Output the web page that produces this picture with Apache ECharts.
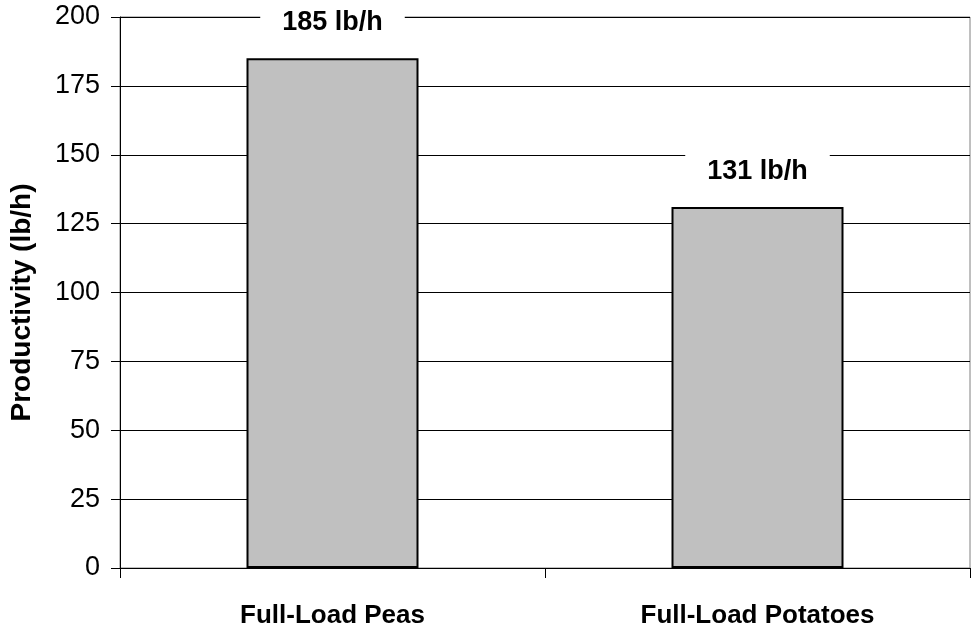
<!DOCTYPE html>
<html>
<head>
<meta charset="utf-8">
<script src="https://cdn.jsdelivr.net/npm/echarts@6/dist/echarts.min.js"></script>
<style>html,body{margin:0;padding:0;background:#fff}#c{width:974px;height:632px}</style>
</head>
<body>
<div id="c"></div>
<script>
var categories = ['Full-Load Peas', 'Full-Load Potatoes'];
var productivity = [185, 131];
var labelTexts = ['185 lb/h', '131 lb/h'];
var yAxisName = 'Productivity (lb/h)';

var FONT = "'Liberation Sans', Arial, sans-serif";
var chart = echarts.init(document.getElementById('c'));
chart.setOption({
  animation: false,
  backgroundColor: '#fff',
  grid: { left: 117, right: 4, top: 17, bottom: 64, show: true, borderColor: '#808080', borderWidth: 1, backgroundColor: 'transparent' },
  xAxis: {
    type: 'category',
    data: categories,
    axisLine: { lineStyle: { color: '#000', width: 1 } },
    axisTick: { show: true, length: 10, lineStyle: { color: '#000' } },
    axisLabel: { margin: 35, fontFamily: FONT, fontSize: 26, fontWeight: 'bold', color: '#000' }
  },
  yAxis: {
    type: 'value',
    min: 0, max: 200, interval: 25,
    name: yAxisName,
    nameLocation: 'middle',
    nameGap: 84,
    nameTextStyle: { fontFamily: FONT, fontSize: 28, fontWeight: 'bold', color: '#000', padding: [0, 20, 0, 0] },
    axisLine: { show: true, lineStyle: { color: '#000', width: 1 } },
    axisTick: { show: true, length: 9, lineStyle: { color: '#000' } },
    axisLabel: { margin: 20, fontFamily: FONT, fontSize: 27, color: '#000' },
    splitLine: { show: true, lineStyle: { color: '#000', width: 1 } }
  },
  series: [{
    type: 'bar',
    data: productivity,
    barWidth: 172,
    itemStyle: { color: '#C0C0C0', borderColor: '#000', borderWidth: 2 },
    label: {
      show: true,
      position: 'top',
      distance: 14,
      formatter: function (p) { return labelTexts[p.dataIndex]; },
      fontFamily: FONT, fontSize: 27, fontWeight: 'bold', color: '#000',
      backgroundColor: '#fff',
      padding: [8, 22, 8, 22]
    }
  }]
});
</script>
</body>
</html>
